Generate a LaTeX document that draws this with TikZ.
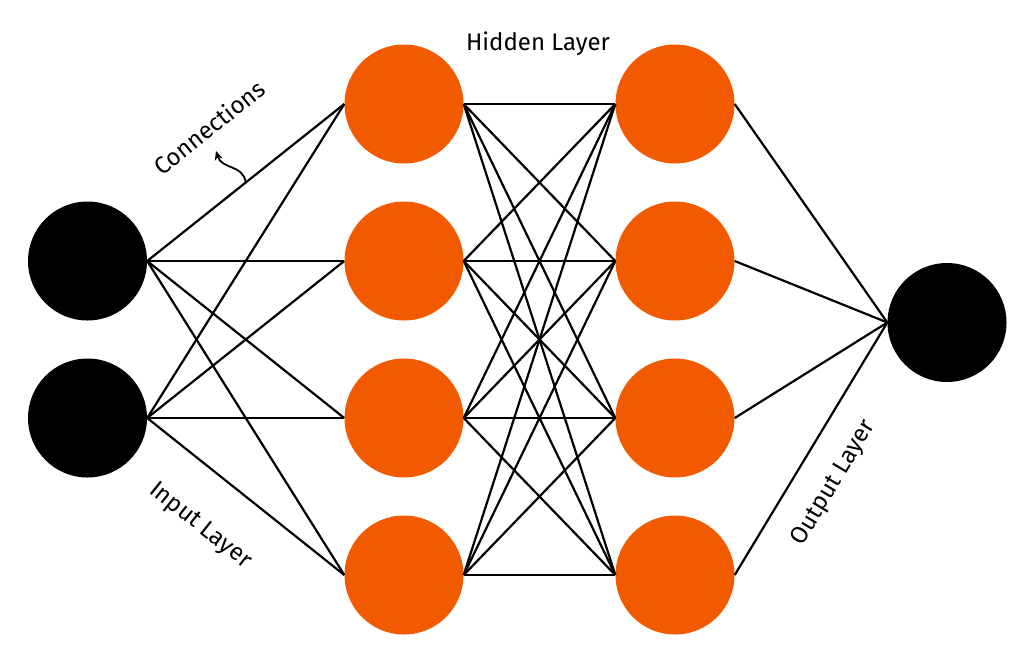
\documentclass[tikz,border=0pt]{standalone}
\usepackage{fontspec}
\setmainfont{Fira Sans}
\usetikzlibrary{arrows.meta,calc}
\definecolor{nnorange}{HTML}{F25A00}
\begin{document}
\begin{tikzpicture}[x=1pt,y=-1pt,
  neuron/.style={circle,minimum size=119pt,inner sep=0pt,draw=none},
  inneuron/.style={neuron,fill=black},
  hidneuron/.style={neuron,fill=nnorange},
  conn/.style={line width=2.2pt,black},
  lbl/.style={font=\fontsize{24}{28}\selectfont,inner sep=0pt}]
\useasboundingbox (0,0) rectangle (1024,662);
\node[inneuron] (i1) at (87.5,261) {};
\node[inneuron] (i2) at (87.5,418) {};
\foreach \j/\y in {1/104,2/261,3/418,4/575}{
  \node[hidneuron] (a\j) at (404,\y) {};
  \node[hidneuron] (b\j) at (675,\y) {};
}
\node[inneuron] (o) at (947,322.5) {};
\foreach \i in {1,2}{\foreach \j in {1,...,4}{\draw[conn] (i\i.east) -- (a\j.west);}}
\foreach \i in {1,...,4}{\foreach \j in {1,...,4}{\draw[conn] (a\i.east) -- (b\j.west);}}
\foreach \i in {1,...,4}{\draw[conn] (b\i.east) -- (o.west);}
\node[lbl] (hl) at (538,44) {Hidden Layer};
\node[lbl,rotate=38.6] (cl) at (209,127) {Connections};
\node[lbl,rotate=-38.6] (il) at (200,526) {Input Layer};
\node[lbl,rotate=59] (ol) at (834,483) {Output Layer};
\coordinate (cs) at ($ (i1.east)!0.5!(a1.west) $);
\coordinate (ce) at (216,151);
\draw[line width=1.8pt,-{Stealth[length=9pt,width=8pt]}] (cs) .. controls (243,164) and (222,170) .. (ce);
\end{tikzpicture}
\end{document}
